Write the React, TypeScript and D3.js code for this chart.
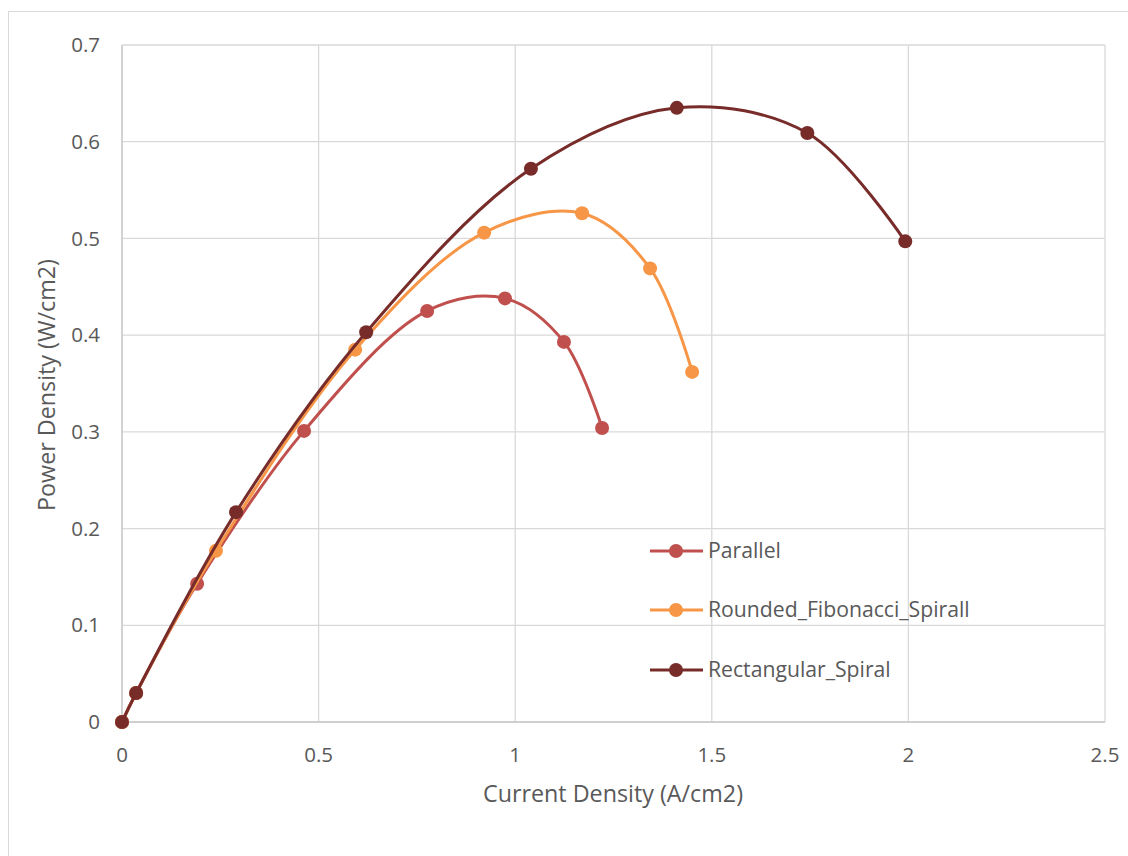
import React from "react";
import * as d3 from "d3";

const seriesNames = ["Parallel", "Rounded_Fibonacci_Spirall", "Rectangular_Spiral"];
const seriesColors = ["#C0504D", "#F79646", "#772C2A"];

const parallelX = [0, 0.036, 0.191, 0.463, 0.776, 0.974, 1.124, 1.221];
const parallelY = [0, 0.030, 0.143, 0.301, 0.425, 0.438, 0.393, 0.304];

const fibonacciX = [0, 0.036, 0.239, 0.593, 0.921, 1.170, 1.343, 1.450];
const fibonacciY = [0, 0.030, 0.177, 0.385, 0.506, 0.526, 0.469, 0.362];

const rectX = [0, 0.036, 0.290, 0.621, 1.040, 1.411, 1.743, 1.992];
const rectY = [0, 0.030, 0.217, 0.403, 0.572, 0.635, 0.609, 0.497];

const xTicks = [0, 0.5, 1, 1.5, 2, 2.5];
const yTicks = [0, 0.1, 0.2, 0.3, 0.4, 0.5, 0.6, 0.7];

const xTitle = "Current Density (A/cm2)";
const yTitle = "Power Density (W/cm2)";

export default function App() {
  const W = 1128, H = 856;
  const left = 122, right = 1105, top = 45, bottom = 722;
  const x = d3.scaleLinear().domain([0, 2.5]).range([left, right]);
  const y = d3.scaleLinear().domain([0, 0.7]).range([bottom, top]);
  const font = "'Open Sans', 'Noto Sans', sans-serif";
  const series = [
    { xs: parallelX, ys: parallelY },
    { xs: fibonacciX, ys: fibonacciY },
    { xs: rectX, ys: rectY },
  ];
  const line = d3
    .line<[number, number]>()
    .x((d) => x(d[0]))
    .y((d) => y(d[1]))
    .curve(d3.curveCatmullRom.alpha(0.5));
  const fmt = (v: number) => (v === 0 ? "0" : String(+v.toFixed(1)));

  const legendY = [551, 610, 670];

  return (
    <svg width={W} height={H} style={{ position: "absolute", left: 0, top: 0, background: "#fff" }}>
      <rect x={8.5} y={11.5} width={W + 10} height={H + 10} fill="#fff" stroke="#d9d9d9" strokeWidth={1} />
      {/* grid */}
      {yTicks.map((t) => (
        <line key={"gy" + t} x1={left} x2={right} y1={y(t)} y2={y(t)} stroke="#d9d9d9" strokeWidth={1.3} />
      ))}
      {xTicks.map((t) => (
        <line key={"gx" + t} x1={x(t)} x2={x(t)} y1={top} y2={bottom} stroke="#d9d9d9" strokeWidth={1.3} />
      ))}
      <line x1={left} x2={left} y1={top} y2={bottom} stroke="#c8c8c8" strokeWidth={1.3} />
      <line x1={left} x2={right} y1={bottom} y2={bottom} stroke="#c8c8c8" strokeWidth={1.3} />
      {/* tick labels */}
      {yTicks.map((t) => (
        <text key={"ty" + t} x={100} y={y(t)} dy="0.35em" textAnchor="end" fontFamily={font} fontSize={20.5} fill="#595959">
          {fmt(t)}
        </text>
      ))}
      {xTicks.map((t) => (
        <text key={"tx" + t} x={x(t)} y={755} dy="0.35em" textAnchor="middle" fontFamily={font} fontSize={20.5} fill="#595959">
          {fmt(t)}
        </text>
      ))}
      {/* axis titles */}
      <text x={613} y={794} dy="0.35em" textAnchor="middle" fontFamily={font} fontSize={23.3} fill="#595959">
        {xTitle}
      </text>
      <text
        transform={`translate(47,385) rotate(-90)`}
        dy="0.35em"
        textAnchor="middle"
        fontFamily={font}
        fontSize={23.3}
        fill="#595959"
      >
        {yTitle}
      </text>
      {/* series */}
      {series.map((s, i) => {
        const pts = s.xs.map((v, j) => [v, s.ys[j]] as [number, number]);
        return (
          <g key={"s" + i}>
            <path d={line(pts) || ""} fill="none" stroke={seriesColors[i]} strokeWidth={3} />
            {pts.map((p, j) => (
              <circle key={j} cx={x(p[0])} cy={y(p[1])} r={7} fill={seriesColors[i]} />
            ))}
          </g>
        );
      })}
      {/* legend */}
      {seriesNames.map((n, i) => (
        <g key={"l" + i}>
          <line x1={650} x2={703} y1={legendY[i]} y2={legendY[i]} stroke={seriesColors[i]} strokeWidth={3} />
          <circle cx={676} cy={legendY[i]} r={7} fill={seriesColors[i]} />
          <text x={708} y={legendY[i]} dy="0.35em" fontFamily={font} fontSize={21.2} fill="#595959">
            {n}
          </text>
        </g>
      ))}
    </svg>
  );
}
